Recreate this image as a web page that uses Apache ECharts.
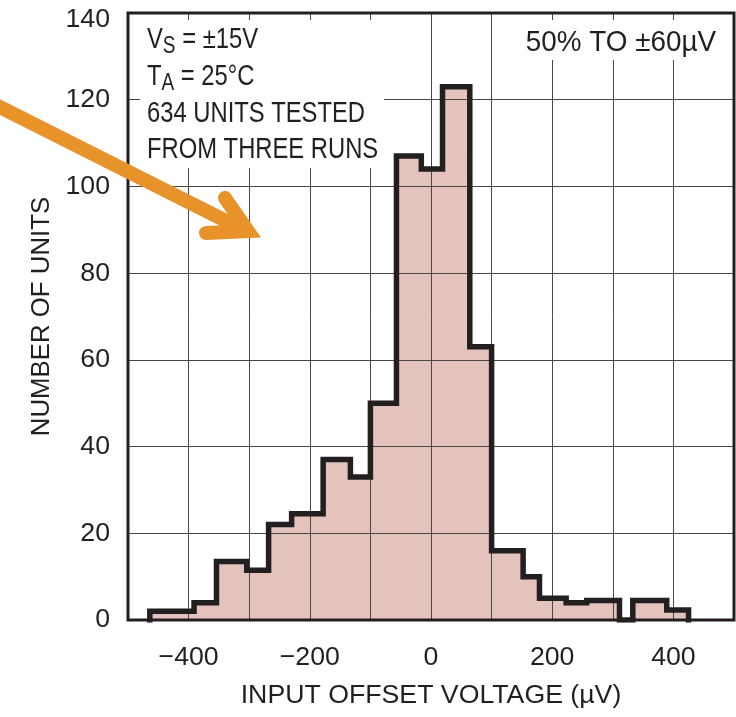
<!DOCTYPE html>
<html>
<head>
<meta charset="utf-8">
<script src="https://cdn.jsdelivr.net/npm/echarts@6/dist/echarts.min.js"></script>
<style>html,body{margin:0;padding:0;background:#fff}#c{width:736px;height:717px}</style>
</head>
<body>
<div id="c"></div>
<script>
// ---- data ----
const binEdges = [-464,-391,-354,-304,-268,-230,-178,-133,-100,-57,-16,19,64,100,152,179,223,257,311,333,389,425];
const binCounts = [2,4,13.5,11.5,22,24.5,37,33,50,107,104,123,63,16,10,5,4,4.5,0,4.5,2.3];
const xTickLabels = [-400,-200,0,200,400];
const yTickLabels = [0,20,40,60,80,100,120,140];
const noteLines = ['V|S| = ±15V','T|A| = 25°C','634 UNITS TESTED','FROM THREE RUNS'];
const noteRight = '50% TO ±60µV';
const xTitle = 'INPUT OFFSET VOLTAGE (µV)';
const yTitle = 'NUMBER OF UNITS';

function hasFont(f){
  const c=document.createElement('canvas').getContext('2d');
  c.font='40px monospace'; const a=c.measureText('MWIi 0123 ABC').width;
  c.font='40px "'+f+'", monospace'; const b=c.measureText('MWIi 0123 ABC').width;
  return a!==b;
}
let FF, k, sx, sx2;
if (hasFont('Liberation Sans Narrow')) { FF='"Liberation Sans Narrow"'; k=1; sx=1; sx2=1.1; }
else if (hasFont('Arial Narrow')) { FF='"Arial Narrow"'; k=1; sx=1; sx2=1.1; }
else { FF='"Liberation Sans", Arial, sans-serif'; k=0.86; sx=0.82; sx2=0.96; }
const fs = n => Math.round(n*k*10)/10;

const INK='#231F20', FILL='#E5C3BD', GRIDC='#474747', ORANGE='#E8922A';

// outline built from bins
const outline=[[binEdges[0],0]];
for(let i=0;i<binCounts.length;i++){
  outline.push([binEdges[i],binCounts[i]]);
  outline.push([binEdges[i+1],binCounts[i]]);
}
outline.push([binEdges[binEdges.length-1],0]);

const chart=echarts.init(document.getElementById('c'),null,{renderer:'canvas'});

const graphics=[
  {type:'rect',shape:{x:140,y:20,width:244,height:148},style:{fill:'#fff'},z:5},
  {type:'rect',shape:{x:512,y:20,width:212,height:40},style:{fill:'#fff'},z:5},
];
const lineY=[40,77,114,150];
const annSize = (k===1)?29.5:29;
noteLines.forEach((t,i)=>{
  const parts=t.split('|');
  let txt;
  if(parts.length===3) txt='{n|'+parts[0]+'}{s|'+parts[1]+'}{n|'+parts[2]+'}';
  else txt='{n|'+t+'}';
  graphics.push({type:'text',x:147,y:lineY[i],z:6,scaleX:sx,style:{
    text:txt, align:'left', verticalAlign:'middle', fill:INK,
    rich:{n:{fontSize:annSize,fontFamily:FF,fill:INK,verticalAlign:'middle'},
          s:{fontSize:annSize*0.8,fontFamily:FF,fill:INK,padding:[14,0,0,0],verticalAlign:'middle'}}
  }});
});
graphics.push({type:'text',x:716,y:43,z:6,scaleX:sx2,style:{text:noteRight,align:'right',verticalAlign:'middle',fontSize:annSize,fontFamily:FF,fill:INK}});
// arrow annotation
graphics.push({type:'polyline',z:20,shape:{points:[[-12,101],[246,231]]},style:{stroke:ORANGE,lineWidth:14,fill:null,lineCap:'round'}});
graphics.push({type:'polyline',z:20,shape:{points:[[225,198],[248,231],[206,233]]},style:{stroke:ORANGE,lineWidth:14,fill:null,lineCap:'round',lineJoin:'miter'}});

const yMax = yTickLabels[yTickLabels.length-1];
chart.setOption({
  animation:false,
  backgroundColor:'#fff',
  textStyle:{fontFamily:FF},
  grid:{left:128,right:2,top:13,bottom:97,containLabel:false,outerBoundsMode:'none',
        show:true,borderColor:INK,borderWidth:3,backgroundColor:'transparent',z:4},
  xAxis:{type:'value',min:-500,max:500,interval:100,z:1,
    axisLine:{show:false},axisTick:{show:false},
    splitLine:{show:true,lineStyle:{color:GRIDC,width:1}},
    axisLabel:{margin:24,fontSize:fs(31),color:INK,fontFamily:FF,
      formatter:v=>xTickLabels.includes(v)?(v<0?'\u2212'+Math.abs(v):String(v)):''},
    name:xTitle,nameLocation:'middle',nameGap:62,
    nameTextStyle:{fontSize:fs(31),color:INK,fontFamily:FF}},
  yAxis:{type:'value',min:0,max:yMax,interval:20,z:1,
    axisLine:{show:false},axisTick:{show:false},
    splitLine:{show:true,lineStyle:{color:GRIDC,width:1}},
    axisLabel:{margin:18,fontSize:fs(31),color:INK,fontFamily:FF,
      formatter:v=>yTickLabels.includes(v)?(v===yMax?'{t|'+v+'}':String(v)):'',
      rich:{t:{fontSize:fs(31),color:INK,fontFamily:FF,padding:[14,0,0,0]}}},
    name:yTitle,nameLocation:'middle',nameGap:69,
    nameTextStyle:{fontSize:fs(30),color:INK,fontFamily:FF}},
  series:[
    {type:'line',data:outline,symbol:'none',z:0,silent:true,
     lineStyle:{width:0,opacity:0},areaStyle:{color:FILL,opacity:1}},
    {type:'line',data:outline,symbol:'none',z:3,silent:true,
     lineStyle:{color:INK,width:5.5,join:'miter',cap:'square'}}
  ],
  graphic:graphics
});
</script>
</body>
</html>
